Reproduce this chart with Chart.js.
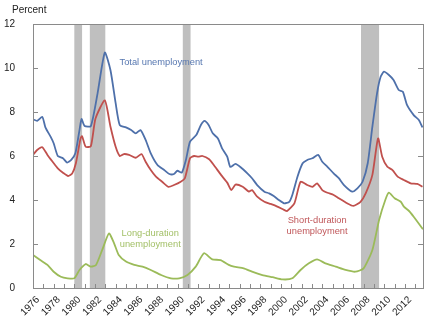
<!DOCTYPE html>
<html><head><meta charset="utf-8">
<script src="https://cdn.jsdelivr.net/npm/chart.js@4"></script>
<style>html,body{margin:0;padding:0;background:#fff}#wrap{width:437px;height:322px}</style>
</head><body><div id="wrap"><canvas id="c" width="437" height="322"></canvas></div>
<script>
const totalYears = [1976.0,1976.4,1976.9,1977.2,1977.7,1978.0,1978.4,1978.9,1979.3,1979.7,1980.1,1980.5,1980.7,1981.0,1981.6,1982.25,1982.95,1983.5,1984.0,1984.4,1985.0,1985.5,1985.95,1986.4,1986.9,1987.4,1988.05,1988.7,1989.2,1989.65,1989.98,1990.4,1990.8,1991.2,1991.8,1992.25,1992.6,1993.0,1993.4,1993.9,1994.3,1994.8,1995.1,1995.6,1996.1,1996.75,1997.2,1997.7,1998.4,1998.85,1999.3,1999.8,2000.3,2000.8,2001.1,2001.6,2002.1,2002.55,2003.05,2003.6,2004.0,2004.5,2005.1,2005.6,2006.1,2006.9,2007.4,2007.9,2008.4,2008.85,2009.3,2009.65,2009.97,2010.45,2010.9,2011.4,2011.8,2012.2,2012.85,2013.35,2013.7];
const totalValues = [7.67,7.6,7.78,7.3,6.88,6.58,6.0,5.9,5.7,5.82,6.12,7.18,7.68,7.36,7.36,8.85,10.7,9.9,8.4,7.4,7.3,7.18,7.03,7.18,6.73,6.12,5.59,5.36,5.18,5.18,5.33,5.24,5.82,6.65,6.95,7.41,7.6,7.41,7.03,6.8,6.35,5.97,5.5,5.64,5.49,5.21,4.99,4.68,4.38,4.3,4.18,4.0,3.85,3.92,4.23,5.06,5.67,5.82,5.9,6.05,5.74,5.51,5.21,4.99,4.68,4.38,4.53,4.83,5.67,7.33,8.85,9.6,9.83,9.68,9.45,9.0,8.92,8.32,7.86,7.64,7.3];

const shortYears = [1976.0,1976.4,1976.9,1977.4,1977.9,1978.4,1978.9,1979.4,1979.8,1980.15,1980.6,1980.75,1981.1,1981.6,1982.05,1982.95,1983.5,1984.0,1984.4,1984.8,1985.3,1985.95,1986.5,1986.9,1987.4,1987.9,1988.5,1989.1,1989.65,1990.3,1990.7,1991.2,1991.6,1992.0,1992.4,1993.05,1993.5,1994.2,1994.8,1995.2,1995.6,1996.3,1996.9,1997.2,1997.7,1998.4,1999.0,1999.65,2000.3,2000.6,2001.3,2001.9,2002.55,2003.05,2003.5,2004.0,2004.5,2005.1,2005.6,2006.4,2007.0,2007.7,2008.2,2008.85,2009.4,2009.8,2010.3,2010.8,2011.3,2011.9,2012.55,2013.2,2013.7];
const shortValues = [6.05,6.27,6.4,6.05,5.74,5.44,5.24,5.09,5.21,5.67,6.8,6.9,6.42,6.45,7.7,8.53,7.33,6.42,6.0,6.09,6.05,5.92,6.09,5.74,5.36,5.06,4.83,4.6,4.68,4.83,4.99,5.9,6.0,5.97,6.0,5.85,5.59,5.14,4.79,4.45,4.7,4.6,4.38,4.45,4.15,3.92,3.82,3.7,3.55,3.5,3.85,4.83,4.68,4.6,4.76,4.45,4.33,4.23,4.08,3.85,3.73,3.92,4.3,5.14,6.8,5.97,5.51,5.36,5.06,4.91,4.76,4.73,4.6];

const longYears = [1976.0,1976.7,1977.4,1978.0,1978.7,1979.35,1980.0,1980.5,1981.1,1981.6,1982.1,1982.7,1983.35,1983.85,1984.3,1985.0,1985.8,1986.6,1987.4,1988.4,1989.35,1990.15,1990.95,1991.75,1992.55,1993.35,1994.15,1994.95,1995.45,1996.4,1997.2,1998.2,1999.2,2000.15,2001.1,2001.9,2002.7,2003.5,2004.3,2005.3,2006.25,2007.2,2008.0,2008.85,2009.5,2010.1,2010.45,2011.0,2011.6,2011.9,2012.4,2012.85,2013.75];
const longValues = [1.5,1.27,1.05,0.74,0.51,0.44,0.44,0.82,1.09,0.97,1.05,1.73,2.48,2.03,1.5,1.2,1.05,0.97,0.82,0.59,0.44,0.44,0.59,0.97,1.58,1.3,1.27,1.05,0.97,0.89,0.74,0.59,0.49,0.39,0.44,0.82,1.12,1.3,1.12,0.97,0.82,0.74,0.89,1.73,3.09,4.0,4.33,4.08,3.92,3.7,3.5,3.24,2.67];

const recessionStarts = [1980.0, 1981.5, 1990.5, 2007.75];
const recessionEnds   = [1980.75, 1983.0, 1991.25, 2009.5];

const tickYears = [1976,1977,1978,1979,1980,1981,1982,1983,1984,1985,1986,1987,1988,1989,1990,1991,1992,1993,1994,1995,1996,1997,1998,1999,2000,2001,2002,2003,2004,2005,2006,2007,2008,2009,2010,2011,2012,2013];
const xTickLabels = ['1976','1978','1980','1982','1984','1986','1988','1990','1992','1994','1996','1998','2000','2002','2004','2006','2008','2010','2012'];
const yTicks = [0,2,4,6,8,10,12];

const seriesLabels = [
  {lines:['Total unemployment'], x:1988.4, y:10.27, color:'#5677b0'},
  {lines:['Long-duration','unemployment'], x:1987.35, y:2.5, color:'#a3c068'},
  {lines:['Short-duration','unemployment'], x:2003.5, y:3.09, color:'#c0575a'}
];

const FONT = '"Liberation Sans", Arial, sans-serif';
const pts = (xs, ys) => xs.map((x,i)=>({x:x, y:ys[i]}));

const decor = {
  id:'decor',
  beforeDatasetsDraw(chart){
    const {ctx, chartArea:a, scales:{x}} = chart;
    ctx.save();
    ctx.fillStyle = '#bfbfbf';
    recessionStarts.forEach((s,i)=>{
      const x0 = x.getPixelForValue(s), x1 = x.getPixelForValue(recessionEnds[i]);
      ctx.fillRect(x0, a.top, x1-x0, a.bottom-a.top);
    });
    ctx.restore();
  },
  afterDatasetsDraw(chart){
    const {ctx, chartArea:a, scales:{x,y}} = chart;
    ctx.save();
    ctx.strokeStyle = '#8a8a8a';
    ctx.lineWidth = 1;
    ctx.strokeRect(Math.round(a.left)+0.5, Math.round(a.top)+0.5, Math.round(a.right-a.left), Math.round(a.bottom-a.top));
    ctx.beginPath();
    tickYears.forEach(t=>{
      const px = Math.round(x.getPixelForValue(t))+0.5;
      ctx.moveTo(px, a.bottom); ctx.lineTo(px, a.bottom-4);
    });
    yTicks.forEach(v=>{
      const py = Math.round(y.getPixelForValue(v))+0.5;
      ctx.moveTo(a.left, py); ctx.lineTo(a.left+5, py);
      ctx.moveTo(a.right, py); ctx.lineTo(a.right-5, py);
    });
    ctx.stroke();
    ctx.font = '9.3px ' + FONT;
    ctx.textAlign = 'center';
    ctx.textBaseline = 'middle';
    seriesLabels.forEach(l=>{
      const cx = x.getPixelForValue(l.x), cy = y.getPixelForValue(l.y);
      ctx.fillStyle = l.color;
      l.lines.forEach((s,i)=>ctx.fillText(s, cx, cy + i*11));
    });
    ctx.fillStyle = '#222';
    ctx.font = '10px ' + FONT;
    ctx.textAlign = 'left';
    ctx.fillText('Percent', 12, 10);
    ctx.restore();
  }
};

new Chart(document.getElementById('c'), {
  type:'line',
  data:{datasets:[
    {label:'Total unemployment', data:pts(totalYears,totalValues), borderColor:'#4e70aa', borderWidth:1.8, pointRadius:0, tension:0.2, fill:false},
    {label:'Short-duration unemployment', data:pts(shortYears,shortValues), borderColor:'#c0504d', borderWidth:1.8, pointRadius:0, tension:0.2, fill:false},
    {label:'Long-duration unemployment', data:pts(longYears,longValues), borderColor:'#9bbb59', borderWidth:1.8, pointRadius:0, tension:0.2, fill:false}
  ]},
  options:{
    responsive:false, animation:false, devicePixelRatio:1,
    layout:{padding:{top:24, right:14, left:0, bottom:0}},
    plugins:{legend:{display:false}, tooltip:{enabled:false}},
    scales:{
      x:{type:'linear', min:1976, max:2013.75,
        grid:{display:false}, border:{display:false},
        afterBuildTicks(ax){ ax.ticks = tickYears.map(v=>({value:v})); },
        afterFit(ax){ ax.height = 34; },
        ticks:{autoSkip:false, minRotation:45, maxRotation:45, padding:-2, labelOffset:5, color:'#222', font:{family:FONT, size:10},
          callback(v){ const s = String(v); return xTickLabels.includes(s) ? s : ''; }}
      },
      y:{min:0, max:12,
        grid:{display:false}, border:{display:false},
        afterBuildTicks(ax){ ax.ticks = yTicks.map(v=>({value:v})); },
        afterFit(ax){ ax.width = 33; },
        ticks:{padding:10, color:'#222', font:{family:FONT, size:10}}
      }
    }
  },
  plugins:[decor]
});
</script></body></html>
